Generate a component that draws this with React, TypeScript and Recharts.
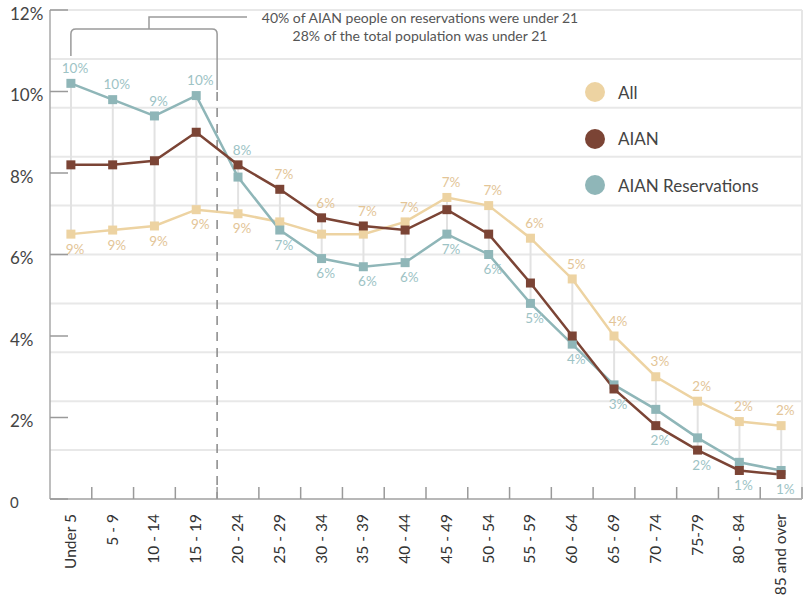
import React from "react";
import {
  ComposedChart,
  Line,
  Bar,
  XAxis,
  YAxis,
  CartesianGrid,
  LabelList,
  Customized,
} from "recharts";

const ageGroups = [
  "Under 5", "5 - 9", "10 - 14", "15 - 19", "20 - 24", "25 - 29",
  "30 - 34", "35 - 39", "40 - 44", "45 - 49", "50 - 54", "55 - 59",
  "60 - 64", "65 - 69", "70 - 74", "75-79", "80 - 84", "85 and over",
];
const allPop = [6.5, 6.6, 6.7, 7.1, 7.0, 6.8, 6.5, 6.5, 6.8, 7.4, 7.2, 6.4, 5.4, 4.0, 3.0, 2.4, 1.9, 1.8];
const aianPop = [8.2, 8.2, 8.3, 9.0, 8.2, 7.6, 6.9, 6.7, 6.6, 7.1, 6.5, 5.3, 4.0, 2.7, 1.8, 1.2, 0.7, 0.6];
const reservationPop = [10.2, 9.8, 9.4, 9.9, 7.9, 6.6, 5.9, 5.7, 5.8, 6.5, 6.0, 4.8, 3.8, 2.8, 2.2, 1.5, 0.9, 0.7];
const allLabels = ["9%", "9%", "9%", "9%", "9%", "7%", "6%", "7%", "7%", "7%", "7%", "6%", "5%", "4%", "3%", "2%", "2%", "2%"];
const reservationLabels = ["10%", "10%", "9%", "10%", "8%", "7%", "6%", "6%", "6%", "7%", "6%", "5%", "4%", "3%", "2%", "2%", "1%", "1%"];
// reservation labels sit above the range for the young groups, below afterwards
const resLabelsOnTopUntil = 5;
const yTicks = [0, 2, 4, 6, 8, 10, 12];
const gridValues = [0, 1.2, 2.4, 3.6, 4.8, 6, 7.2, 8.4, 9.6, 10.8, 12];
const legendItems = [
  { name: "All", color: "#EDD3A2" },
  { name: "AIAN", color: "#7B4435" },
  { name: "AIAN Reservations", color: "#8FB6B8" },
];

const ALL_COLOR = "#EDD3A2";
const AIAN_COLOR = "#7B4435";
const RES_COLOR = "#8FB6B8";
const ALL_LABEL = "#E3C597";
const RES_LABEL = "#9DC3C5";

const FONT = "Lato, 'Open Sans', sans-serif";
const PLOT_LEFT = 50;
const PLOT_RIGHT = 802;
const PLOT_BOTTOM = 499;
const BAND = (PLOT_RIGHT - PLOT_LEFT) / ageGroups.length;

const rows = ageGroups.map((group, i) => ({
  group,
  all: allPop[i],
  aian: aianPop[i],
  res: reservationPop[i],
  range: [
    Math.min(allPop[i], aianPop[i], reservationPop[i]),
    Math.max(allPop[i], aianPop[i], reservationPop[i]),
  ],
  resTop: i < resLabelsOnTopUntil ? reservationLabels[i] : "",
  resBottom: i < resLabelsOnTopUntil ? "" : reservationLabels[i],
  allTop: i < resLabelsOnTopUntil ? "" : allLabels[i],
  allBottom: i < resLabelsOnTopUntil ? allLabels[i] : "",
}));

const squareDot = (color: string) => (p: any) => (
  <rect key={`d-${p.index}`} x={p.cx - 4.5} y={p.cy - 4.5} width={9} height={9} fill={color} />
);

const rangeLabel = (color: string, where: "top" | "bottom") => (props: any) => {
  const { value } = props;
  if (!value) return null;
  const vb = props.viewBox ?? props;
  const top = Math.min(vb.y, vb.y + vb.height);
  const bottom = Math.max(vb.y, vb.y + vb.height);
  const cx = vb.x + vb.width / 2 + 4;
  const cy = where === "top" ? top - 15 : bottom + 15;
  return (
    <text x={cx} y={cy} dy="0.35em" textAnchor="middle" fontSize={13.5} fontFamily={FONT} fill={color}>
      {value}
    </text>
  );
};

function YTick(props: any) {
  const { y, payload } = props;
  const zero = payload.value === 0;
  return (
    <g>
      <line x1={PLOT_LEFT} x2={PLOT_LEFT + 18} y1={y} y2={y} stroke="#9a9a9a" strokeWidth={1.5} />
      <text x={10} y={y + 4} dy="0.35em" fontSize={zero ? 15 : 17} fontFamily={FONT} fill="#444">
        {zero ? "0" : `${payload.value}%`}
      </text>
    </g>
  );
}

function XTick(props: any) {
  const { x, y, payload } = props;
  return (
    <g>
      <line x1={x + BAND / 2} x2={x + BAND / 2} y1={y} y2={y - 12} stroke="#9a9a9a" strokeWidth={1.5} />
      <text
        transform={`translate(${x + 5},${y + 15}) rotate(-90)`}
        textAnchor="end"
        fontSize={15.5}
        fontFamily={FONT}
        fill="#333"
      >
        {payload.value}
      </text>
    </g>
  );
}

function Bracket() {
  const x0 = PLOT_LEFT + BAND * 0.5;
  const x1 = PLOT_LEFT + BAND * 4;
  const xm = 149;
  const r = 5;
  return (
    <g>
      <path
        d={`M${x0},56 V${29 + r} Q${x0},29 ${x0 + r},29 H${x1 - r} Q${x1},29 ${x1},${29 + r} V90`}
        fill="none"
        stroke="#9a9a9a"
        strokeWidth={1.5}
      />
      <path d={`M${xm},29 V17 H247`} fill="none" stroke="#9a9a9a" strokeWidth={1.5} />
      <line x1={x1} x2={x1} y1={92} y2={PLOT_BOTTOM} stroke="#888" strokeWidth={1.5} strokeDasharray="9 7" />
      <text x={420} y={23} textAnchor="middle" fontSize={14} fontFamily={FONT} fill="#555">
        40% of AIAN people on reservations were under 21
      </text>
      <text x={420} y={41} textAnchor="middle" fontSize={14} fontFamily={FONT} fill="#555">
        28% of the total population was under 21
      </text>
    </g>
  );
}

export default function App() {
  return (
    <div style={{ position: "absolute", left: 0, top: 0, width: 803, height: 600, background: "#fff" }}>
      <ComposedChart width={803} height={600} data={rows} margin={{ top: 10, right: 0, bottom: 0, left: 0 }}>
        <CartesianGrid vertical={false} horizontalValues={gridValues} stroke="#e8e8e8" strokeWidth={2} />
        <XAxis
          dataKey="group"
          height={101}
          interval={0}
          tickSize={0}
          tickMargin={0}
          tickLine={false}
          tick={<XTick />}
          axisLine={{ stroke: "#a8a8a8", strokeWidth: 1.5 }}
        />
        <YAxis
          width={50}
          domain={[0, 12]}
          ticks={yTicks}
          tickSize={0}
          tickMargin={0}
          tickLine={false}
          tick={<YTick />}
          axisLine={{ stroke: "#a8a8a8", strokeWidth: 1.5 }}
        />
        <YAxis
          yAxisId="right"
          orientation="right"
          width={1}
          domain={[0, 12]}
          tick={false}
          tickLine={false}
          axisLine={{ stroke: "#e6e6e6", strokeWidth: 2 }}
        />
        <Customized component={<Bracket />} />
        <Bar dataKey="range" barSize={2} fill="#e2e2e2" isAnimationActive={false}>
          <LabelList dataKey="resTop" content={rangeLabel(RES_LABEL, "top")} />
          <LabelList dataKey="allTop" content={rangeLabel(ALL_LABEL, "top")} />
          <LabelList dataKey="resBottom" content={rangeLabel(RES_LABEL, "bottom")} />
          <LabelList dataKey="allBottom" content={rangeLabel(ALL_LABEL, "bottom")} />
        </Bar>
        <Line dataKey="all" stroke={ALL_COLOR} strokeWidth={2.5} dot={squareDot(ALL_COLOR)} activeDot={false} isAnimationActive={false} />
        <Line dataKey="res" stroke={RES_COLOR} strokeWidth={2.5} dot={squareDot(RES_COLOR)} activeDot={false} isAnimationActive={false} />
        <Line dataKey="aian" stroke={AIAN_COLOR} strokeWidth={2.5} dot={squareDot(AIAN_COLOR)} activeDot={false} isAnimationActive={false} />
      </ComposedChart>
      <div style={{ position: "absolute", left: 585, top: 69, fontFamily: FONT }}>
        {legendItems.map((item) => (
          <div key={item.name} style={{ display: "flex", alignItems: "center", height: 46.5 }}>
            <span style={{ width: 20, height: 20, borderRadius: "50%", background: item.color, display: "inline-block" }} />
            <span style={{ marginLeft: 13, fontSize: 17, color: "#444" }}>{item.name}</span>
          </div>
        ))}
      </div>
    </div>
  );
}
